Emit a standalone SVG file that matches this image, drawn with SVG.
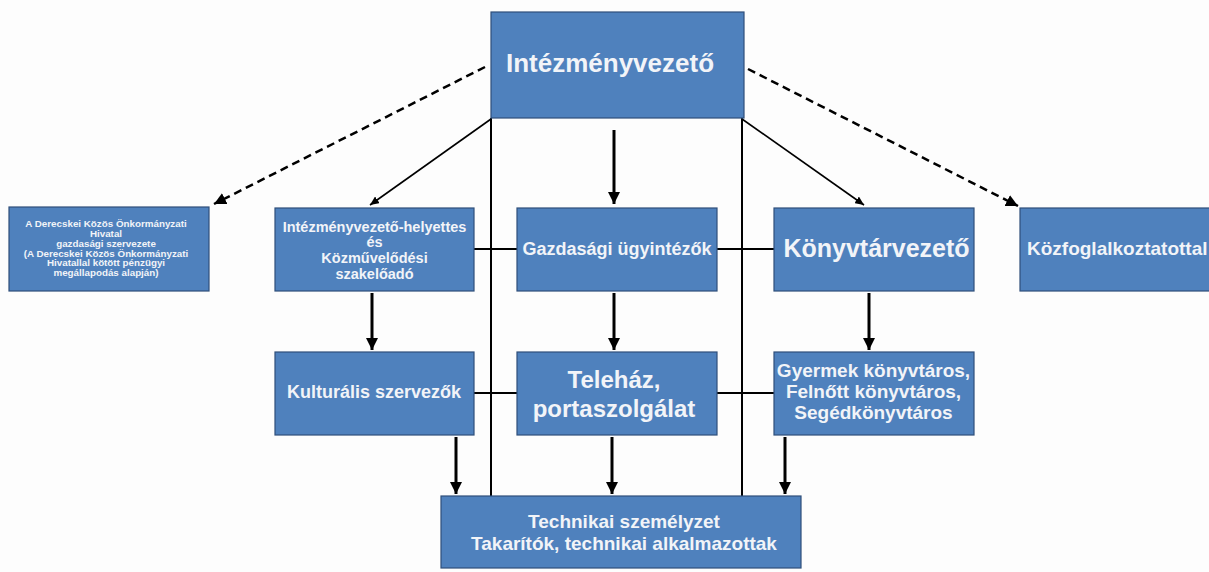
<svg xmlns="http://www.w3.org/2000/svg" width="1209" height="572" viewBox="0 0 1209 572">
<style>
.box{fill:#4f81bd;stroke:#2f4f7a;stroke-width:1.2}
.t{font-family:"Liberation Sans",Arial,sans-serif;font-weight:bold;fill:#f2f4f8;text-anchor:middle}
.ln{stroke:#000;stroke-width:2;fill:none}
.thick{stroke:#000;stroke-width:3;fill:none}
.thin{stroke:#000;stroke-width:1.6;fill:none}
.dash{stroke:#000;stroke-width:2.5;fill:none;stroke-dasharray:8 5}
</style>
<defs>
<marker id="ah" markerUnits="userSpaceOnUse" markerWidth="14" markerHeight="12" refX="12" refY="6" orient="auto">
<path d="M0,0 L12,6 L0,12 Z" fill="#000"/>
</marker>
<marker id="ahs" markerUnits="userSpaceOnUse" markerWidth="10" markerHeight="8" refX="9" refY="4" orient="auto">
<path d="M0,0 L9,4 L0,8 Z" fill="#000"/>
</marker>
</defs>
<rect width="1209" height="572" fill="#fdfdfd"/>
<g id="connectors">
<line class="ln" x1="491" y1="118" x2="491" y2="496"/>
<line class="ln" x1="742" y1="118" x2="742" y2="496"/>
<line class="ln" x1="474" y1="249" x2="517" y2="249"/>
<line class="ln" x1="717" y1="249" x2="774" y2="249"/>
<line class="ln" x1="474" y1="393" x2="517" y2="393"/>
<line class="ln" x1="717" y1="393" x2="774" y2="393"/>
<line class="thick" x1="614" y1="130" x2="614" y2="204" marker-end="url(#ah)"/>
<line class="thick" x1="372" y1="293" x2="372" y2="350" marker-end="url(#ah)"/>
<line class="thick" x1="614" y1="293" x2="614" y2="350" marker-end="url(#ah)"/>
<line class="thick" x1="869" y1="293" x2="869" y2="350" marker-end="url(#ah)"/>
<line class="thick" x1="456" y1="437" x2="456" y2="494" marker-end="url(#ah)"/>
<line class="thick" x1="612" y1="437" x2="612" y2="494" marker-end="url(#ah)"/>
<line class="thick" x1="785" y1="437" x2="785" y2="494" marker-end="url(#ah)"/>
<line class="thin" x1="491" y1="119" x2="370" y2="205" marker-end="url(#ahs)"/>
<line class="thin" x1="742" y1="119" x2="864" y2="205" marker-end="url(#ahs)"/>
<line class="dash" x1="485" y1="67" x2="214" y2="204" marker-end="url(#ah)"/>
<line class="dash" x1="748" y1="69" x2="1018" y2="206" marker-end="url(#ah)"/>
</g>
<g id="n-vezeto">
<rect class="box" x="491" y="12" width="253" height="106"/>
<text class="t" x="610" y="72" font-size="26">Intézményvezető</text>
</g>
<g id="n-hivatal">
<rect class="box" x="9" y="207" width="200" height="84"/>
<text class="t" font-size="9.8"><tspan x="106" y="227">A Derecskei Közös Önkormányzati</tspan><tspan x="106" y="237">Hivatal</tspan><tspan x="106" y="247">gazdasági szervezete</tspan><tspan x="106" y="256.5">(A Derecskei Közös Önkormányzati</tspan><tspan x="106" y="266">Hivatallal kötött pénzügyi</tspan><tspan x="106" y="275.5">megállapodás alapján)</tspan></text>
</g>
<g id="n-helyettes">
<rect class="box" x="275" y="208" width="199" height="83"/>
<text class="t" font-size="14.5"><tspan x="374.5" y="232">Intézményvezető-helyettes</tspan><tspan x="374.5" y="247">és</tspan><tspan x="374.5" y="263">Közművelődési</tspan><tspan x="374.5" y="279">szakelőadó</tspan></text>
</g>
<g id="n-gazdasagi">
<rect class="box" x="517" y="208" width="200" height="83"/>
<text class="t" x="617" y="254.5" font-size="18">Gazdasági ügyintézők</text>
</g>
<g id="n-konyvtarvezeto">
<rect class="box" x="774" y="208" width="200" height="83"/>
<text class="t" x="876.5" y="257" font-size="25">Könyvtárvezető</text>
</g>
<g id="n-kozfoglalkoztatottal">
<rect class="box" x="1020" y="208" width="200" height="83"/>
<text class="t" x="1027" y="255" font-size="19" style="text-anchor:start">Közfoglalkoztatottal</text>
</g>
<g id="n-kulturalis">
<rect class="box" x="275" y="352" width="199" height="83"/>
<text class="t" x="374" y="398" font-size="18">Kulturális szervezők</text>
</g>
<g id="n-telehaz">
<rect class="box" x="517" y="352" width="200" height="83"/>
<text class="t" font-size="24"><tspan x="614" y="388">Teleház,</tspan><tspan x="614" y="417">portaszolgálat</tspan></text>
</g>
<g id="n-konyvtaros">
<rect class="box" x="774" y="352" width="200" height="83"/>
<text class="t" font-size="19"><tspan x="873.5" y="377">Gyermek könyvtáros,</tspan><tspan x="873.5" y="398">Felnőtt könyvtáros,</tspan><tspan x="873.5" y="418.5">Segédkönyvtáros</tspan></text>
</g>
<g id="n-technikai">
<rect class="box" x="441" y="496" width="360" height="72"/>
<text class="t" font-size="19"><tspan x="624" y="528">Technikai személyzet</tspan><tspan x="624" y="550">Takarítók, technikai alkalmazottak</tspan></text>
</g>
</svg>
